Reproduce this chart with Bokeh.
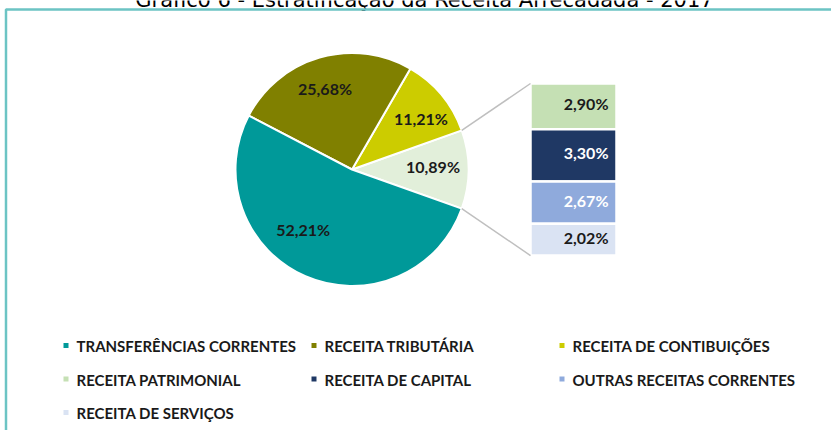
import math
from bokeh.plotting import figure
from bokeh.models import Range1d, ColumnDataSource
from bokeh.core.properties import value
from bokeh.embed import file_html
from bokeh.resources import INLINE

# ---------------- data ----------------
title_text = "Gráfico 6 - Estratificação da Receita Arrecadada - 2017"
pie_names = ["TRANSFERÊNCIAS CORRENTES", "RECEITA TRIBUTÁRIA", "RECEITA DE CONTIBUIÇÕES", "DEMAIS RECEITAS"]
pie_values = [52.21, 25.68, 11.21, 10.89]
bar_names = ["RECEITA PATRIMONIAL", "RECEITA DE CAPITAL", "OUTRAS RECEITAS CORRENTES", "RECEITA DE SERVIÇOS"]
bar_values = [2.90, 3.30, 2.67, 2.02]
legend_names = ["TRANSFERÊNCIAS CORRENTES", "RECEITA TRIBUTÁRIA", "RECEITA DE CONTIBUIÇÕES",
                "RECEITA PATRIMONIAL", "RECEITA DE CAPITAL", "OUTRAS RECEITAS CORRENTES",
                "RECEITA DE SERVIÇOS"]

# ---------------- styles ----------------
pie_colors = ["#009999", "#808000", "#CCCC00", "#E2EFDA"]
pie_text_colors = ["#1a1a1a", "#1a1a1a", "#1a1a1a", "#1a1a1a"]
bar_colors = ["#C5E0B4", "#1F3864", "#8FAADC", "#DAE3F3"]
bar_text_colors = ["#1a1a1a", "#ffffff", "#ffffff", "#1a1a1a"]
legend_colors = ["#009999", "#808000", "#CCCC00", "#C5E0B4", "#1F3864", "#8FAADC", "#DAE3F3"]
FONT = value("Lato")
W, H = 831, 430

def fmt(v):
    return f"{v:.2f}".replace(".", ",") + "%"

p = figure(width=W, height=H, output_backend="svg", toolbar_location=None,
           x_range=Range1d(0, W), y_range=Range1d(H, 0), min_border=0)
p.axis.visible = False
p.grid.visible = False
p.outline_line_color = None
p.background_fill_color = "white"
p.border_fill_color = "white"

# frame border and clipped title (the reference page cuts the title at the top)
p.text(x=[424], y=[-0.5], text=[title_text], text_font=value("DejaVu Sans"),
       text_font_size="21px", text_align="center", text_baseline="alphabetic",
       text_color="#000000")
p.line(x=[5.5, 5.5, W + 5], y=[H + 5, 9, 9], line_color="#6CC4C4", line_width=2.5)

# ---------------- pie (ordered anticlockwise from the "other" slice) ----------------
cx, cy, R = 351.5, 169, 116.5
total = sum(pie_values)
order = [3, 2, 1, 0]
a = -pie_values[3] / total * math.pi
starts, ends, cols, lx, ly, lt, lc = [], [], [], [], [], [], []
label_r = [80, 82, 84, 81]
label_shift = [-14, 3, -5, 0]  # degrees, layout nudges
slice_angles = {}
for i in order:
    span = pie_values[i] / total * 2 * math.pi
    starts.append(a)
    ends.append(a + span)
    cols.append(pie_colors[i])
    mid = a + span / 2 + math.radians(label_shift[i])
    lx.append(cx + label_r[i] * math.cos(mid))
    ly.append(cy - label_r[i] * math.sin(mid) - 3.5)
    lt.append(fmt(pie_values[i]))
    lc.append(pie_text_colors[i])
    slice_angles[i] = (a, a + span)
    a += span

p.wedge(x=cx, y=cy, radius=R, start_angle=starts, end_angle=ends,
        fill_color=cols, line_color="white", line_width=2)
p.text(x=lx, y=ly, text=lt, text_color=lc, text_font=FONT, text_font_style="bold",
       text_font_size="16px", text_align="center", text_baseline="middle")

# ---------------- bar of pie ----------------
bar_left, bar_right, bar_top = 530, 616, 83
scale = 15.8  # px per percentage point
tops, bottoms = [], []
y = bar_top
for v in bar_values:
    tops.append(y)
    y += v * scale
    bottoms.append(y)
bar_bottom = y
src = ColumnDataSource(dict(top=tops, bottom=bottoms, color=bar_colors,
                            ty=[(t + b) / 2 - 2.5 for t, b in zip(tops, bottoms)],
                            label=[fmt(v) for v in bar_values], tc=bar_text_colors))
p.quad(left=bar_left, right=bar_right, top="top", bottom="bottom", fill_color="color",
       line_color="white", line_width=2.5, source=src)
p.text(x=bar_right - 8, y="ty", text="label", text_color="tc", text_font=FONT,
       text_font_style="bold", text_font_size="16px", text_align="right",
       text_baseline="middle", source=src)

# connectors
a_lo, a_hi = slice_angles[3]
p.segment(x0=[cx + R * math.cos(a_hi), cx + R * math.cos(a_lo)],
          y0=[cy - R * math.sin(a_hi), cy - R * math.sin(a_lo)],
          x1=[bar_left, bar_left], y1=[bar_top, bar_bottom],
          line_color="#BFBFBF", line_width=1.5)

# ---------------- legend ----------------
col_x = [63, 311, 559]
row_base = [345.5, 379, 412.5]
mx, my, tx, tyl = [], [], [], []
for i, name in enumerate(legend_names):
    c, r = i % 3, i // 3
    mx.append(col_x[c] + 2.5)
    my.append(row_base[r] - 0.5)
    tx.append(col_x[c] + 13)
    tyl.append(row_base[r])
p.rect(x=mx, y=my, width=5, height=5, fill_color=legend_colors, line_color=None)
p.text(x=tx, y=tyl, text=legend_names, text_font=FONT, text_font_style="bold",
       text_font_size="15px", text_color="#1a1a1a", text_align="left",
       text_baseline="alphabetic")

open("out.html", "w").write(file_html(p, INLINE))
